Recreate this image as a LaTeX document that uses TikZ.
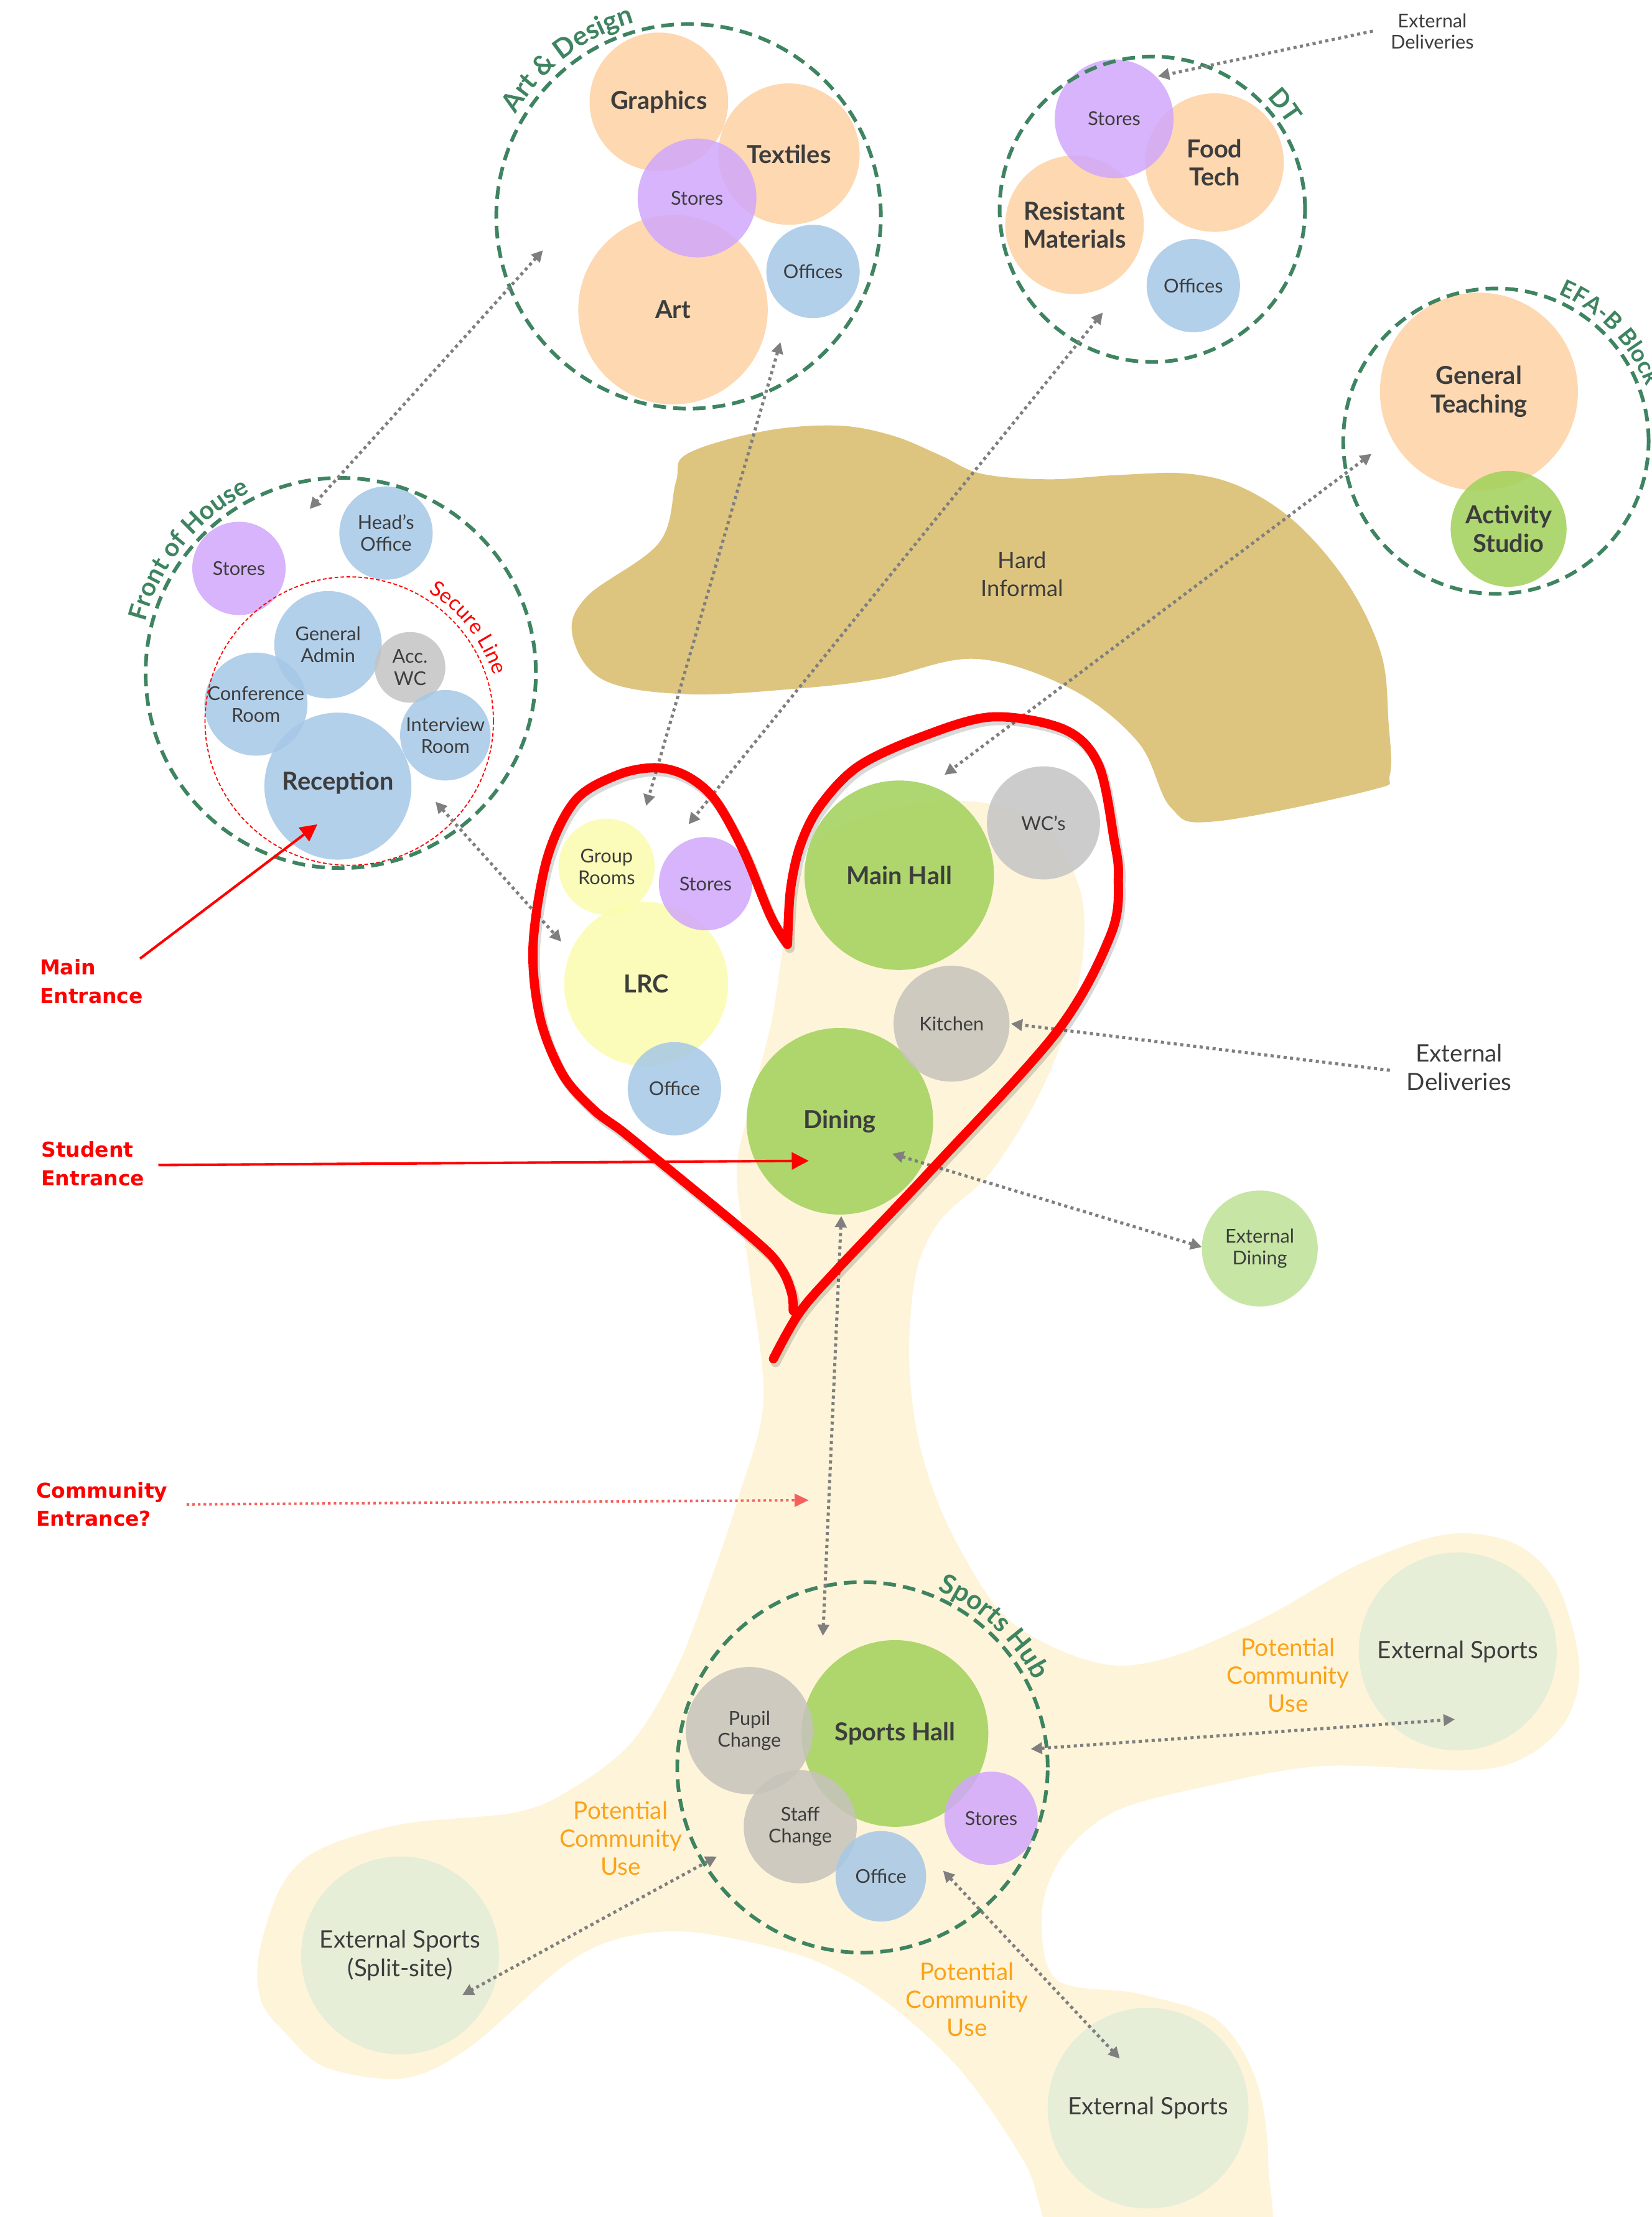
\documentclass[tikz,border=0pt]{standalone}
\usepackage{fontspec}
\setmainfont{Lato}
\newfontfamily\entfont{DejaVu Sans}
\usetikzlibrary{arrows.meta,decorations.text}
\definecolor{peach}{HTML}{FDD2A4}
\definecolor{lilac}{HTML}{D1A7FC}
\definecolor{skyb}{HTML}{A6C8E7}
\definecolor{leaf}{HTML}{A0D159}
\definecolor{leaflt}{HTML}{BEE296}
\definecolor{lemon}{HTML}{FCFCAE}
\definecolor{warmgray}{HTML}{C6C3BB}
\definecolor{coolgray}{HTML}{C4C4C4}
\definecolor{sage}{HTML}{E6EED8}
\definecolor{cream}{HTML}{FEF4D9}
\definecolor{tanblob}{HTML}{DEC57F}
\definecolor{dgreen}{HTML}{3E8461}
\definecolor{txt}{HTML}{3D3D3D}
\definecolor{agray}{HTML}{7F7F7F}
\definecolor{orng}{HTML}{FBA31A}
\definecolor{redd}{HTML}{FF0000}
\definecolor{redlt}{HTML}{F4615C}
\tikzset{
 room/.style={circle, inner sep=0pt, align=center, fill opacity=0.85, text opacity=1, text=txt, font=\fontsize{13.5}{15.5}\selectfont},
 bigtxt/.style={font=\fontsize{17.5}{20}\selectfont\bfseries},
 grp/.style={circle, inner sep=0pt, draw=dgreen, line width=2.6pt, dash pattern=on 9pt off 5pt},
 link/.style={draw=agray, line width=2.2pt, dash pattern=on 2.2pt off 2.4pt, arrows={Triangle[length=8pt,width=8pt]-Triangle[length=8pt,width=8pt]}},
 linkone/.style={draw=agray, line width=2.2pt, dash pattern=on 2.2pt off 2.4pt, arrows={-Triangle[length=8pt,width=8pt]}},
 entr/.style={draw=redd, line width=1.8pt, arrows={-Triangle[length=12pt,width=12pt]}},
 entlbl/.style={anchor=west, align=left, inner sep=0pt, text=redd, font=\entfont\bfseries\fontsize{14.5}{20}\selectfont},
 plain/.style={align=center, inner sep=0pt, text=txt},
 pcu/.style={align=center, inner sep=0pt, text=orng, font=\fontsize{17}{19.8}\selectfont},
}
\newcommand\heartline{plot[smooth, tension=0.55] coordinates {(547,961) (565,929) (590,900) (660,826) (748,729) (786,660) (791,620) (788,594) (777,541) (753,516) (702,507) (652,521) (607,542) (580,570) (566,598) (559,630) (557,668)} -- plot[smooth, tension=0.55] coordinates {(557,668) (545,648) (526,602) (506,566) (486,549) (464,543) (437,548) (407,566) (387,607) (377,669) (382,720) (398,760) (420,785) (440,800) (467,822) (536,879) (553,898) (560,915) (561,927)}}
\begin{document}
\begin{tikzpicture}[x=1pt,y=-1pt]
\useasboundingbox (0,0) rectangle (1168,1568);
\fill[white] (0,0) rectangle (1168,1568);

% hard informal blob
\fill[tanblob] plot[smooth cycle, tension=0.6] coordinates {(486,321) (540,305) (592,301) (631,308) (665,322) (694,335) (741,339) (790,336) (840,335) (879,345) (918,371) (954,414) (977,463) (982,510) (983,548) (969,559) (859,581) (828,571) (805,525) (757,487) (690,466) (623,480) (564,487) (486,491) (427,481) (405,450) (415,422) (466,384) (478,341)};
\node[plain, font=\fontsize{16}{19.6}\selectfont] (hardinf) at (723,406) {Hard\\Informal};

% cream circulation
\fill[cream] plot[smooth cycle, tension=0.55] coordinates {(556,660) (575,600) (625,573) (690,567) (740,585) (764,630) (766,675) (755,725) (733,778) (700,830) (665,863) (648,900) (643,960) (650,1020) (670,1078) (706,1138) (745,1165) (790,1178) (837,1169) (898,1142) (962,1106) (1024,1085) (1072,1092) (1102,1122) (1117,1178) (1108,1216) (1080,1242) (1040,1252) (936,1249) (855,1263) (789,1281) (752,1312) (737,1352) (747,1400) (805,1410) (860,1428) (888,1470) (897,1530) (888,1600) (760,1600) (725,1530) (680,1465) (627,1416) (572,1385) (494,1367) (442,1370) (399,1390) (332,1448) (285,1470) (230,1462) (203,1439) (185,1416) (183,1383) (199,1334) (226,1308) (285,1290) (364,1282) (403,1266) (446,1233) (478,1181) (501,1122) (523,1057) (540,990) (530,900) (521,830) (531,781) (546,721)};

% Art & Design
\node[room, fill=peach, minimum size=98pt, bigtxt] (graphics) at (466,72) {Graphics};
\node[room, fill=peach, minimum size=100pt, bigtxt] (textiles) at (558,109) {Textiles};
\node[room, fill=peach, minimum size=134pt, bigtxt] (art) at (476,219) {Art};
\node[room, fill=skyb, minimum size=66pt] (adoffices) at (575,192) {Offices};
\node[room, fill=lilac, minimum size=84pt] (adstores) at (493,140) {Stores};
\node[grp, minimum size=272pt] (adgrp) at (487,153) {};
\path[y=1pt, decorate, decoration={text along path, text align=center, text color=dgreen, text={|\fontsize{19}{19}\selectfont\bfseries|Art {\&} Design}}] (487,-153) ++(175:142) arc[start angle=175, end angle=80, radius=142];

% DT
\node[room, fill=peach, minimum size=98pt, bigtxt] (foodtech) at (859,115) {Food\\Tech};
\node[room, fill=peach, minimum size=98pt, bigtxt] (resistant) at (760,159) {Resistant\\Materials};
\node[room, fill=skyb, minimum size=66pt] (dtoffices) at (844,202) {Offices};
\node[room, fill=lilac, minimum size=84pt] (dtstores) at (788,84) {Stores};
\node[grp, minimum size=216pt] (dtgrp) at (815,148) {};
\path[y=1pt, decorate, decoration={text along path, text align=center, text color=dgreen, text={|\fontsize{18}{18}\selectfont\bfseries|DT}}] (815,-148) ++(78:113) arc[start angle=78, end angle=-2, radius=113];
\node[plain, font=\fontsize{13.5}{15}\selectfont] (extdelA) at (1013,22) {External\\Deliveries};

% EFA-B Block
\node[room, fill=peach, minimum size=140pt, bigtxt] (genteach) at (1046,277) {General\\Teaching};
\node[room, fill=leaf, minimum size=82pt, bigtxt] (activity) at (1067,374) {Activity\\Studio};
\node[grp, minimum size=216pt] (efagrp) at (1058,312) {};
\path[y=1pt, decorate, decoration={text along path, text align=center, text color=dgreen, text={|\fontsize{16.5}{16.5}\selectfont\bfseries|EFA-B Block}}] (1058,-312) ++(83.5:113) arc[start angle=83.5, end angle=3.5, radius=113];

% Front of House
\node[room, fill=lilac, minimum size=66pt] (fohstores) at (169,402) {Stores};
\node[room, fill=skyb, minimum size=66pt] (heads) at (273,377) {Head’s\\Office};
\node[room, fill=skyb, minimum size=76pt] (genadmin) at (232,456) {General\\Admin};
\node[room, fill=coolgray, minimum size=50pt] (accwc) at (290,472) {Acc.\\WC};
\node[room, fill=skyb, minimum size=64pt] (conf) at (181,498) {Conference\\Room};
\node[room, fill=skyb, minimum size=64pt] (interview) at (315,520) {Interview\\Room};
\node[room, fill=skyb, minimum size=104pt, bigtxt] (reception) at (239,556) {\raisebox{8pt}{Reception}};
\node[circle, inner sep=0pt, minimum size=204pt, draw=redd, line width=0.8pt, dash pattern=on 2.6pt off 1.6pt] (secure) at (247,510) {};
\path[y=1pt, decorate, decoration={text along path, text align=center, text color=redd, text={|\fontsize{15}{15}\selectfont|Secure Line}}] (247,-510) ++(80:107) arc[start angle=80, end angle=-4, radius=107];
\node[grp, minimum size=276pt] (fohgrp) at (241,476) {};
\path[y=1pt, decorate, decoration={text along path, text align=center, text color=dgreen, text={|\fontsize{18}{18}\selectfont\bfseries|Front of House}}] (241,-476) ++(185:143) arc[start angle=185, end angle=97, radius=143];

% heart rooms
\node[room, fill=lemon, minimum size=68pt] (grouprooms) at (429,613) {Group\\Rooms};
\node[room, fill=lemon, minimum size=116pt, bigtxt] (lrc) at (457,696) {LRC};
\node[room, fill=lilac, minimum size=66pt] (hstores) at (499,625) {Stores};
\node[room, fill=skyb, minimum size=66pt] (hoffice) at (477,770) {Office};
\node[room, fill=leaf, minimum size=134pt, bigtxt] (mainhall) at (636,619) {Main Hall};
\node[room, fill=coolgray, minimum size=80pt] (wcs) at (738,582) {WC’s};
\node[room, fill=leaf, minimum size=132pt, bigtxt] (dining) at (594,793) {Dining};
\node[room, fill=warmgray, minimum size=82pt] (kitchen) at (673,724) {Kitchen};
\node[room, fill=leaflt, minimum size=82pt] (extdining) at (891,883) {External\\Dining};
\node[plain, font=\fontsize{17}{20.5}\selectfont] (extdelB) at (1032,755) {External\\Deliveries};

% Sports hub
\node[room, fill=leaf, minimum size=132pt, bigtxt] (sportshall) at (633,1226) {Sports Hall};
\node[room, fill=warmgray, minimum size=90pt] (pupil) at (530,1224) {Pupil\\Change};
\node[room, fill=warmgray, minimum size=80pt] (staff) at (566,1292) {Staff\\Change};
\node[room, fill=skyb, minimum size=64pt] (soffice) at (623,1327) {Office};
\node[room, fill=lilac, minimum size=66pt] (sstores) at (701,1286) {Stores};
\node[grp, minimum size=262pt] (sportsgrp) at (610,1250) {};
\path[y=1pt, decorate, decoration={text along path, text align=center, text color=dgreen, text={|\fontsize{19}{19}\selectfont\bfseries|Sports Hub}}] (610,-1250) ++(87:136) arc[start angle=87, end angle=7, radius=136];

% external sports
\node[room, fill=sage, fill opacity=1, minimum size=140pt, font=\fontsize{17}{20.5}\selectfont] (extR) at (1031,1168) {External Sports};
\node[room, fill=sage, fill opacity=1, minimum size=140pt, font=\fontsize{17}{20.5}\selectfont] (extSplit) at (283,1383) {External Sports\\(Split-site)};
\node[room, fill=sage, fill opacity=1, minimum size=142pt, font=\fontsize{17}{20.5}\selectfont] (extB) at (812,1491) {External Sports};
\node[pcu] (pcuR) at (911,1185) {Potential\\Community\\Use};
\node[pcu] (pcuL) at (439,1300) {Potential\\Community\\Use};
\node[pcu] (pcuB) at (684,1414) {Potential\\Community\\Use};

% connector end points
\coordinate (a1s) at (384,177); \coordinate (a1e) at (219,360);
\coordinate (a2s) at (552,242); \coordinate (a2e) at (457,570);
\coordinate (a3s) at (780,221); \coordinate (a3e) at (487,583);
\coordinate (a4s) at (970,321); \coordinate (a4e) at (668,548);
\coordinate (a5s) at (308,567); \coordinate (a5e) at (397,666);
\coordinate (a6s) at (971,22);  \coordinate (a6e) at (819,54);
\coordinate (a7s) at (983,757); \coordinate (a7e) at (715,724);
\coordinate (a8s) at (631,816); \coordinate (a8e) at (850,882);
\coordinate (a9s) at (595,860); \coordinate (a9e) at (582,1157);
\coordinate (a10s) at (729,1237); \coordinate (a10e) at (1029,1216);
\coordinate (a11s) at (507,1313); \coordinate (a11e) at (327,1411);
\coordinate (a12s) at (667,1323); \coordinate (a12e) at (792,1456);
\coordinate (mes) at (99,678); \coordinate (mee) at (224.5,583);
\coordinate (ses) at (112,824); \coordinate (see) at (572,821);
\coordinate (ces) at (132,1064); \coordinate (cee) at (572,1061);

\draw[link] (a1s) -- (a1e);
\draw[link] (a2s) -- (a2e);
\draw[link] (a3s) -- (a3e);
\draw[link] (a4s) -- (a4e);
\draw[link] (a5s) -- (a5e);
\draw[linkone] (a6s) -- (a6e);
\draw[linkone] (a7s) -- (a7e);
\draw[link] (a8s) -- (a8e);
\draw[link] (a9s) -- (a9e);
\draw[link] (a10s) -- (a10e);
\draw[link] (a11s) -- (a11e);
\draw[link] (a12s) -- (a12e);

% heart
\draw[black, opacity=0.15, line width=7pt, line cap=round, line join=round, shift={(1.5,2.5)}] \heartline;
\draw[redd, line width=6.5pt, line cap=round, line join=round] \heartline;

% entrances
\draw[entr] (mes) -- (mee);
\draw[entr] (ses) -- (see);
\draw[draw=redlt, line width=1.8pt, dash pattern=on 1.8pt off 2.2pt, arrows={-Triangle[length=10pt,width=9pt]}] (ces) -- (cee);
\node[entlbl] (mainent) at (28,694) {Main\\Entrance};
\node[entlbl] (student) at (29,823) {Student\\Entrance};
\node[entlbl] (comment) at (25.5,1064) {Community\\Entrance?};
\end{tikzpicture}
\end{document}
